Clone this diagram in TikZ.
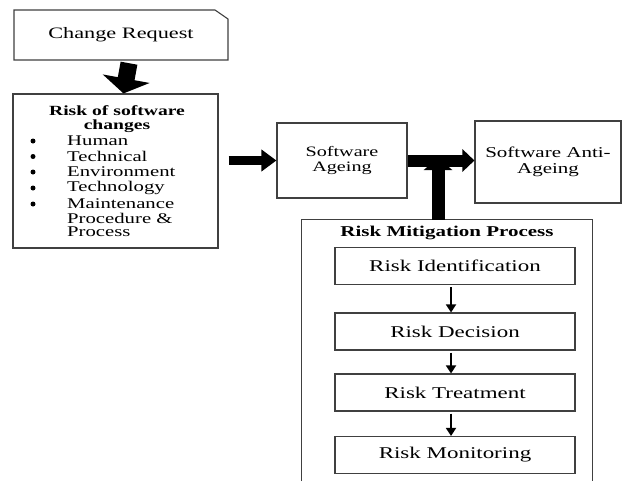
\documentclass[tikz,border=0pt]{standalone}
\usepackage{fontspec}
\setmainfont{Liberation Serif}[FakeStretch=1.4]
\usetikzlibrary{arrows.meta}
\begin{document}
\begin{tikzpicture}[x=1pt,y=-1pt,
  boxline/.style={draw=black!75,line width=1.1pt},
  plainbox/.style={boxline,rectangle,inner sep=0pt,align=center},
  innerbox/.style={plainbox,minimum width=240pt,minimum height=37pt,font=\fontsize{16.4}{18}\selectfont},
  txt/.style={inner sep=0pt,align=center},
  item/.style={inner sep=0pt,anchor=west,font=\fontsize{14.8}{15}\selectfont},
  bul/.style={circle,fill=black,inner sep=0pt,minimum size=5pt},
  thinarrow/.style={draw=black,line width=1.8pt,-{Triangle[width=10pt,length=8pt]}},
]
\useasboundingbox (0,0) rectangle (623,482);
\fill[white] (0,0) rectangle (623,482);

% Change Request (chamfered corner)
\draw[boxline] (14,10) -- (215,10) -- (228,19) -- (228,60) -- (14,60) -- cycle;
\node[txt,minimum width=214pt,minimum height=50pt,font=\fontsize{15.9}{18}\selectfont] (cr) at (121,35) {Change Request};

% Risk of software changes
\node[plainbox,minimum width=205pt,minimum height=154pt] (risk) at (115.5,171) {};
\node[txt,font=\bfseries\fontsize{14}{15}\selectfont] (rt1) at (117,110.5) {Risk of software};
\node[txt,font=\bfseries\fontsize{14}{15}\selectfont] (rt2) at (117,126) {changes};
\foreach \y/\t/\n in {141/Human/a,156.5/Technical/b,172/Environment/c,188/Technology/d,204/Maintenance/e}{
  \node[bul] (b\n) at (33,\y) {};
  \node[item] (i\n) at (67,\y) {\t};
}
\node[item] (ie2) at (67,218) {Procedure \&};
\node[item] (ie3) at (67,232) {Process};

% Software Ageing and Anti-Ageing
\node[plainbox,minimum width=130pt,minimum height=75pt,font=\fontsize{14.4}{15.5}\selectfont] (age) at (342,160.5) {Software\\Ageing};
\node[plainbox,minimum width=146pt,minimum height=82pt,font=\fontsize{15}{16.5}\selectfont] (anti) at (548,162) {Software Anti-\\Ageing};

% Risk Mitigation Process container (open at the bottom)
\node[inner sep=0pt,minimum width=290pt,minimum height=261pt] (rmp) at (447,350.5) {};
\draw[boxline] (rmp.south west) -- (rmp.north west) -- (rmp.north east) -- (rmp.south east);
\node[txt,font=\bfseries\fontsize{15}{16}\selectfont] (rmptitle) at (447,233) {Risk Mitigation Process};

\node[innerbox] (ri) at (455,266) {Risk Identification};
\node[innerbox] (rd) at (455,331.5) {Risk Decision};
\node[innerbox] (rt) at (455,392.5) {Risk Treatment};
\node[innerbox] (rm) at (455,455) {Risk Monitoring};

\draw[thinarrow] ([xshift=-4pt,yshift=-2pt]ri.south) -- ([xshift=-4pt]rd.north);
\draw[thinarrow] ([xshift=-4pt,yshift=-2pt]rd.south) -- ([xshift=-4pt]rt.north);
\draw[thinarrow] ([xshift=-4pt,yshift=-2pt]rt.south) -- ([xshift=-4pt]rm.north);

% Block arrows
\draw[line width=17pt,-{Triangle[width=47pt,length=15pt]}] ([xshift=8pt,yshift=-3pt]cr.south) -- ([xshift=8pt]risk.north);
\draw[line width=9pt,-{Triangle[width=21pt,length=15pt]}] ([xshift=10pt]risk.east |- age.west) -- (age.west);
\draw[line width=12pt,-{Triangle[width=22pt,length=12pt]}] (age.east) -- (anti.west |- age.east);
\coordinate (join) at (438,158);
\draw[line width=13pt,-{Triangle[width=28pt,length=12pt]}] (rmp.north -| join) -- (join);
\end{tikzpicture}
\end{document}
